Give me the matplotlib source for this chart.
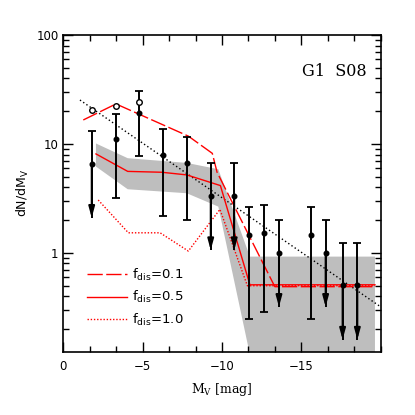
import numpy as np
import matplotlib
matplotlib.use('Agg')
import matplotlib.pyplot as plt

# observed luminosity function points (M_V, dN/dM_V) with error bar ends
mv      = np.array([-1.79, -3.32, -4.78, -6.30, -7.78, -9.29, -10.77, -11.72, -12.65, -13.59, -15.61, -16.53, -17.60, -18.53])
val     = np.array([6.5, 11.0, 19.1, 7.9, 6.7, 3.36, 3.33, 1.45, 1.51, 1.0, 1.45, 1.0, 0.51, 0.51])
err_hi  = np.array([13.2, 18.7, 30.6, 13.7, 11.5, 6.65, 6.65, 2.66, 2.74, 2.0, 2.66, 2.0, 1.23, 1.23])
err_lo  = np.array([2.1, 3.2, 7.8, 2.2, 2.0, 1.06, 1.06, 0.248, 0.286, 0.32, 0.248, 0.32, 0.16, 0.16])
is_lim  = np.array([1, 0, 0, 0, 0, 1, 1, 0, 0, 1, 0, 1, 1, 1], dtype=bool)

# open circles
open_mv  = [-1.79, -3.32, -4.78]
open_val = [20.4, 22.3, 24.4]

# model curves
mv_01 = [-1.26, -3.32, -7.88, -9.39, -9.69, -13.33, -19.64]
n_01  = [16.6, 23.3, 11.8, 8.2, 5.5, 0.49, 0.49]
mv_05 = [-2.06, -4.06, -6.2, -7.78, -9.9, -11.76, -19.64]
n_05  = [8.1, 5.6, 5.5, 5.2, 4.15, 0.51, 0.51]
mv_10 = [-2.2, -4.1, -6.1, -7.88, -9.87, -11.6, -19.64]
n_10  = [3.06, 1.53, 1.53, 1.04, 2.51, 0.50, 0.50]

# grey band
band_up_mv = [-2.06, -4.06, -7.78, -9.77, -11.76, -19.64]
band_up    = [10.1, 7.4, 6.7, 5.86, 0.925, 0.925]
band_lo_mv = [-2.06, -4.06, -7.78, -9.77, -12.0, -19.64]
band_lo    = [6.2, 3.84, 3.53, 2.66, 0.08, 0.08]

# power law fit
fit_mv = [-1.05, -20.0]
fit_n  = [25.3, 0.32]

plt.rcParams['font.family'] = 'DejaVu Sans'
plt.rcParams['mathtext.default'] = 'regular'

fig = plt.figure(figsize=(4.15, 4.15), dpi=100)
ax = fig.add_axes([0.1525, 0.1525, 0.7648, 0.7632])

px = np.concatenate([band_up_mv, band_lo_mv[::-1]])
py = np.concatenate([band_up, band_lo[::-1]])
ax.fill(px, py, color='#bebebe', lw=0, zorder=1)

ax.plot(fit_mv, fit_n, color='k', lw=1.0, dashes=(1, 1.8), zorder=2)

l1, = ax.plot(mv_01, n_01, color='red', lw=1.0, dashes=(11, 2.5), zorder=3, label='f$_{dis}$=0.1')
l2, = ax.plot(mv_05, n_05, color='red', lw=1.0, zorder=3, label='f$_{dis}$=0.5')
l3, = ax.plot(mv_10, n_10, color='red', lw=1.0, dashes=(1, 1.3), zorder=3, label='f$_{dis}$=1.0')

# error bars
ax.vlines(mv, err_lo, err_hi, color='k', lw=1.4, zorder=4)
ax.plot(mv, err_hi, ls='none', marker='_', ms=6, mew=1.3, color='k', zorder=4)
ax.plot(mv[~is_lim], err_lo[~is_lim], ls='none', marker='_', ms=6, mew=1.3, color='k', zorder=4)
for x, v, t in zip(mv[is_lim], val[is_lim], err_lo[is_lim]):
    ax.annotate('', xy=(x, t), xytext=(x, v),
                arrowprops=dict(arrowstyle='-|>,head_length=1.1,head_width=0.3',
                                color='k', lw=1.4, mutation_scale=6,
                                shrinkA=0, shrinkB=0), zorder=4)
ax.plot(mv, val, ls='none', marker='o', ms=3.3, color='k', zorder=5)
ax.plot(open_mv, open_val, ls='none', marker='o', ms=4, mfc='white', mec='k', mew=1.0, zorder=5)

ax.set_yscale('log')
ax.set_xlim(0, -20)
ax.set_ylim(0.124, 100)
ax.set_xticks([0, -5, -10, -15])
ax.set_xticks(np.arange(0, -20.01, -5 / 3.), minor=True)
ax.set_yticks([1, 10, 100])
ax.set_yticklabels(['1', '10', '100'])
ax.tick_params(which='both', direction='in', top=True, right=True, labelsize=8.5, width=1.0)
ax.tick_params(which='major', length=7)
ax.tick_params(which='minor', length=4)
ax.tick_params(axis='x', pad=6)
for s in ax.spines.values():
    s.set_linewidth(1.2)

ax.set_xlabel('M$_V$ [mag]', family='DejaVu Serif', fontsize=9, labelpad=6)
ax.set_ylabel('dN/dM$_V$', fontsize=9, labelpad=4)
ax.text(0.955, 0.885, 'G1  S08', transform=ax.transAxes, ha='right', va='center',
        family='DejaVu Serif', fontsize=11.5)

ax.legend(handles=[l1, l2, l3], loc='upper left', bbox_to_anchor=(0.055, 0.29),
          frameon=False, fontsize=9.5, handlelength=3.0, handletextpad=0.4,
          labelspacing=0.5, borderpad=0)

fig.savefig('out.png', dpi=100)
